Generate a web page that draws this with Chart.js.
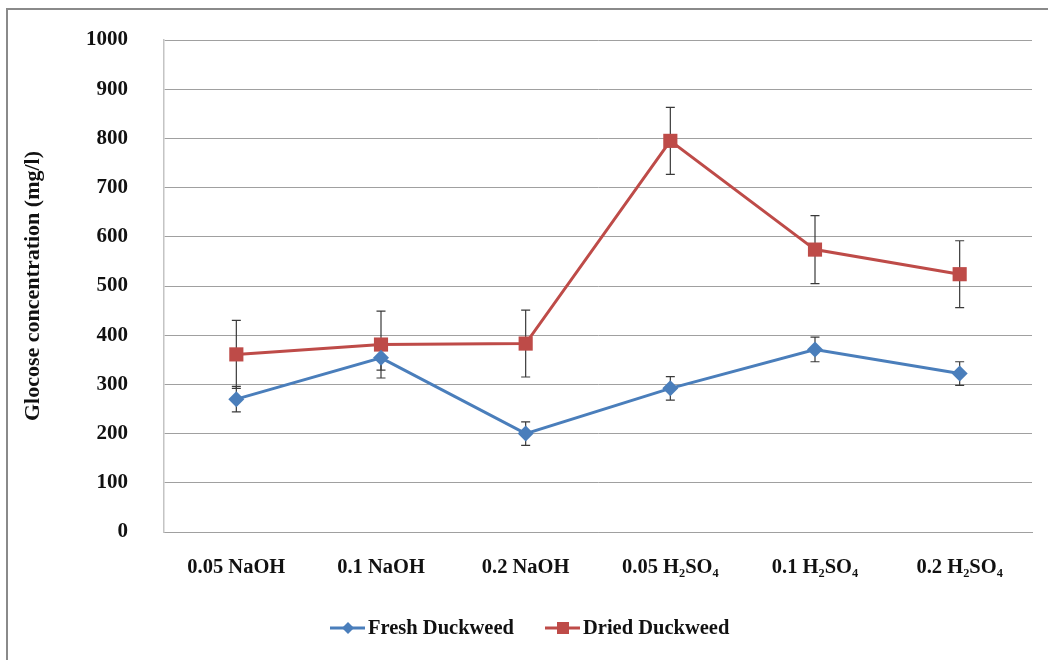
<!DOCTYPE html>
<html>
<head>
<meta charset="utf-8">
<script src="https://cdn.jsdelivr.net/npm/chart.js@4"></script>
<style>
  html, body { margin: 0; padding: 0; background: #fff; }
  #wrap { position: relative; width: 1048px; height: 660px; }
  #frame { position: absolute; left: 6px; top: 8px; right: -4px; bottom: -4px;
           border-left: 2px solid #8a8a8a; border-top: 2px solid #8a8a8a; }
  canvas { position: absolute; left: 0; top: 0; }
</style>
</head>
<body>
<div id="wrap">
  <div id="frame"></div>
  <canvas id="chart" width="1048" height="660"></canvas>
</div>
<script>
// chart data
const categories = ['0.05 NaOH', '0.1 NaOH', '0.2 NaOH', '0.05 H\u2082SO\u2084', '0.1 H\u2082SO\u2084', '0.2 H\u2082SO\u2084'];
const freshValues = [270, 354, 200, 292, 371, 322];
const freshErrors = [26, 25, 24, 24, 25, 24];
const driedValues = [361, 381, 383, 795, 574, 524];
const driedErrors = [69, 68, 68, 68, 69, 68];
const yTicks = [0, 100, 200, 300, 400, 500, 600, 700, 800, 900, 1000];

const BLUE = '#4a7ebb';
const RED = '#be4b48';
const FONT = '"Liberation Serif", "Times New Roman", serif';

// error bars, drawn under the lines/markers
const errorBars = {
  id: 'errorBars',
  beforeDatasetsDraw(chart) {
    const ctx = chart.ctx;
    const y = chart.scales.y;
    ctx.save();
    ctx.strokeStyle = '#3a3a3a';
    ctx.lineWidth = 1.2;
    chart.data.datasets.forEach((ds, di) => {
      const meta = chart.getDatasetMeta(di);
      meta.data.forEach((pt, i) => {
        const v = ds.data[i], e = ds.errors[i];
        const top = y.getPixelForValue(v + e);
        const bot = y.getPixelForValue(v - e);
        ctx.beginPath();
        ctx.moveTo(pt.x, top); ctx.lineTo(pt.x, bot);
        ctx.moveTo(pt.x - 4.5, top); ctx.lineTo(pt.x + 4.5, top);
        ctx.moveTo(pt.x - 4.5, bot); ctx.lineTo(pt.x + 4.5, bot);
        ctx.stroke();
      });
    });
    ctx.restore();
  }
};

// legend with line + marker, like the original
const lineLegend = {
  id: 'lineLegend',
  afterDraw(chart) {
    const ctx = chart.ctx;
    const yMid = 628;
    const items = [
      { x: 330, ds: chart.data.datasets[0] },
      { x: 545, ds: chart.data.datasets[1] }
    ];
    ctx.save();
    items.forEach(it => {
      ctx.strokeStyle = it.ds.borderColor;
      ctx.lineWidth = 3;
      ctx.beginPath();
      ctx.moveTo(it.x, yMid); ctx.lineTo(it.x + 35, yMid);
      ctx.stroke();
      ctx.fillStyle = it.ds.borderColor;
      const cx = it.x + 18;
      if (it.ds.pointStyle === 'rectRot') {
        ctx.beginPath();
        ctx.moveTo(cx, yMid - 6); ctx.lineTo(cx + 6, yMid);
        ctx.lineTo(cx, yMid + 6); ctx.lineTo(cx - 6, yMid);
        ctx.closePath(); ctx.fill();
      } else {
        ctx.fillRect(cx - 6, yMid - 6, 12, 12);
      }
      ctx.fillStyle = '#111';
      ctx.font = 'bold 20.5px ' + FONT;
      ctx.textBaseline = 'middle';
      ctx.textAlign = 'left';
      ctx.fillText(it.ds.label, it.x + 38, yMid + 1);
    });
    ctx.restore();
  }
};

new Chart(document.getElementById('chart'), {
  type: 'line',
  data: {
    labels: categories,
    datasets: [
      {
        label: 'Fresh Duckweed',
        data: freshValues,
        errors: freshErrors,
        borderColor: BLUE,
        backgroundColor: BLUE,
        borderWidth: 3,
        pointStyle: 'rectRot',
        pointRadius: 8,
        pointBorderWidth: 0,
        tension: 0
      },
      {
        label: 'Dried Duckweed',
        data: driedValues,
        errors: driedErrors,
        borderColor: RED,
        backgroundColor: RED,
        borderWidth: 3,
        pointStyle: 'rect',
        pointRadius: 10,
        pointBorderWidth: 0,
        tension: 0
      }
    ]
  },
  options: {
    responsive: false,
    animation: false,
    layout: { padding: { left: 0, right: 16, top: 40, bottom: 0 } },
    plugins: {
      legend: { display: false },
      tooltip: { enabled: false }
    },
    scales: {
      x: {
        offset: true,
        grid: { display: false, drawTicks: false },
        border: { display: true, color: '#a0a0a0', width: 1 },
        ticks: {
          color: '#111',
          padding: 23,
          maxRotation: 0,
          autoSkip: false,
          font: { family: FONT, size: 20.5, weight: 'bold' }
        },
        afterFit(scale) { scale.height = 128; }
      },
      y: {
        min: 0,
        max: 1000,
        afterBuildTicks(scale) { scale.ticks = yTicks.map(v => ({ value: v })); },
        grid: { color: '#a0a0a0', lineWidth: 1, drawTicks: false },
        border: { display: true, color: '#c4c4c4', width: 1.5 },
        ticks: {
          color: '#111',
          padding: 36,
          callback: v => String(v),
          font: { family: FONT, size: 21, weight: 'bold' }
        },
        title: {
          display: true,
          text: 'Glocose concentration (mg/l)',
          color: '#111',
          padding: { top: 20, bottom: 0 },
          font: { family: FONT, size: 22, weight: 'bold' }
        },
        afterFit(scale) {
          scale.width = 164;
          // tick padding would otherwise push the plot top down
          scale.paddingTop = 0;
          scale.paddingBottom = 0;
        }
      }
    }
  },
  plugins: [errorBars, lineLegend]
});
</script>
</body>
</html>
